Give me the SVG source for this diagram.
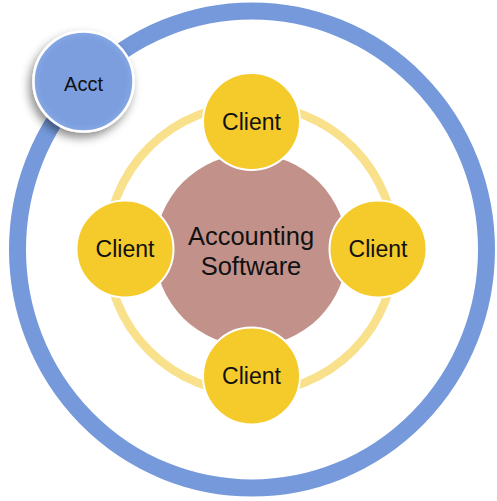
<svg xmlns="http://www.w3.org/2000/svg" width="497" height="501" viewBox="0 0 497 501">
  <defs>
    <filter id="shadow" x="-40%" y="-40%" width="180%" height="180%">
      <feDropShadow dx="-3" dy="5" stdDeviation="5" flood-color="#000" flood-opacity="0.45"/>
    </filter>
    <radialGradient id="acctGrad" cx="50%" cy="50%" r="50%">
      <stop offset="0.85" stop-color="#7B9EDE"/>
      <stop offset="1" stop-color="#86A7E4"/>
    </radialGradient>
  </defs>
  <style>
    .lbl { font-family: "Liberation Sans", "DejaVu Sans", sans-serif; fill: #111; text-anchor: middle; }
    .client { fill: #F5CA2B; stroke: #FFFFFF; stroke-width: 2; }
  </style>
  <rect width="497" height="501" fill="#FFFFFF"/>
  <g id="outer-ring">
    <ellipse cx="252" cy="249.5" rx="234.5" ry="238.5" fill="none" stroke="#7599DB" stroke-width="17"/>
  </g>
  <g id="connectors">
    <circle cx="251" cy="249" r="144" fill="none" stroke="#F9E08A" stroke-width="8.5"/>
  </g>
  <g id="node-software">
    <circle cx="251" cy="250" r="96" fill="#C1918A"/>
    <text class="lbl" x="251" y="245" font-size="25.5">Accounting</text>
    <text class="lbl" x="251" y="275" font-size="25.5">Software</text>
  </g>
  <g id="node-client-top">
    <circle class="client" cx="251.5" cy="121.5" r="48.5"/>
    <text class="lbl" x="251.5" y="130" font-size="23">Client</text>
  </g>
  <g id="node-client-left">
    <circle class="client" cx="125" cy="249" r="48.5"/>
    <text class="lbl" x="125" y="257" font-size="23">Client</text>
  </g>
  <g id="node-client-right">
    <circle class="client" cx="378" cy="249" r="48.5"/>
    <text class="lbl" x="378" y="257" font-size="23">Client</text>
  </g>
  <g id="node-client-bottom">
    <circle class="client" cx="251.5" cy="376" r="48.5"/>
    <text class="lbl" x="251.5" y="384" font-size="23">Client</text>
  </g>
  <g id="node-acct">
    <circle cx="83.5" cy="81.5" r="50" fill="url(#acctGrad)" stroke="#FFFFFF" stroke-width="2.5" filter="url(#shadow)"/>
    <text class="lbl" x="83.5" y="91" font-size="20">Acct</text>
  </g>
</svg>
